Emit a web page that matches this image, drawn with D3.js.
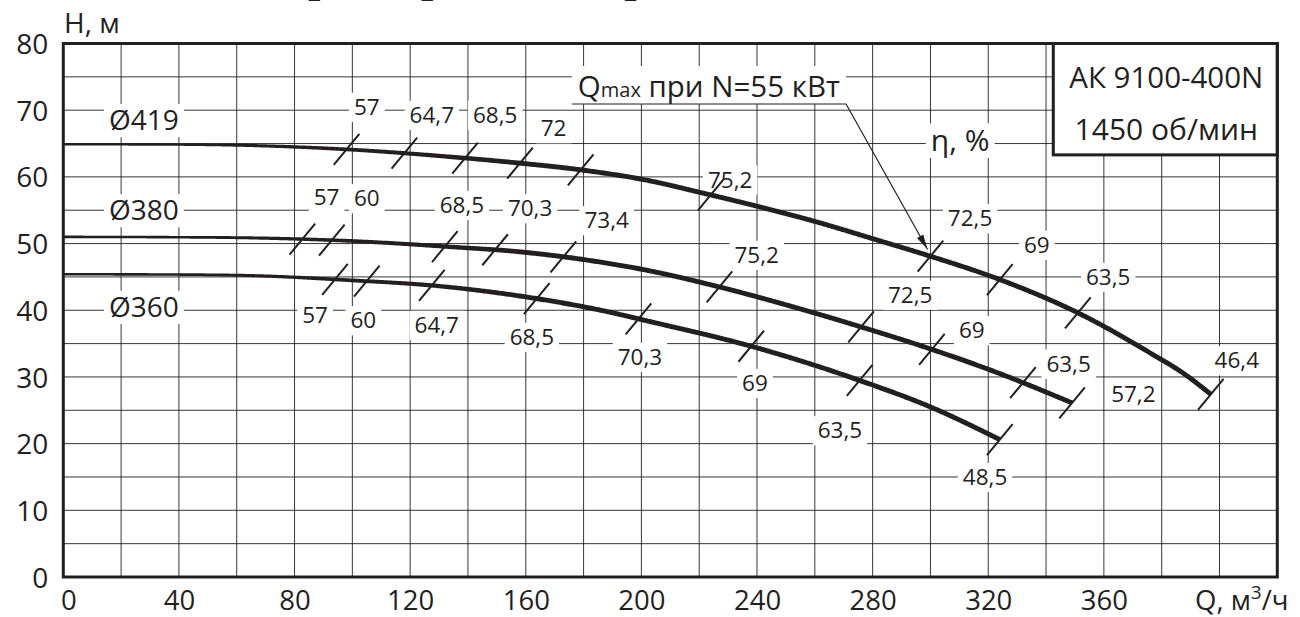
<!DOCTYPE html>
<html><head><meta charset="utf-8">
<script src="https://cdn.jsdelivr.net/npm/d3@7"></script>
<style>
body{margin:0;background:#fff}
svg{display:block}
text{font-family:'Open Sans',sans-serif;fill:#231f20}
</style>
</head><body>
<svg id="chart" width="1300" height="617"></svg>
<script>
// ---------- DATA ----------
const qTicks = [0,40,80,120,160,200,240,280,320,360];
const hTicks = [0,10,20,30,40,50,60,70,80];

const curve419 = [[0,64.9],[40,64.85],[65,64.7],[99,64.1],[134,63.0],[157,62.1],[180,61.0],[203,59.4],[220,57.7],[240,55.6],[261,53.2],[281,50.6],[300,48.1],[324,44.6],[352,39.4],[376,33.6],[388,30.4],[397,27.4]];
const curve380 = [[0,51.0],[40,50.95],[65,50.85],[99,50.4],[134,49.5],[157,48.8],[180,47.6],[203,45.9],[226,43.6],[255,40.2],[276,37.5],[300,34.2],[324,30.5],[349,26.1]];
const curve360 = [[0,45.4],[40,45.35],[65,45.2],[99,44.5],[128,43.7],[163,41.8],[186,40.0],[203,38.3],[238,34.6],[276,29.4],[300,25.5],[324,20.6]];

const diamNames = ["Ø419","Ø380","Ø360"];
const diamLabelQ = [27.9,27.9,27.9];
const diamLabelH = [68.5,55.0,40.5];

const eff419Q = [98,118,139,158,179,224,300,324,351,397];
const eff380Q = [82.7,92.9,132,149.4,173,227,276,300.5,332,349];
const eff360Q = [94,105,127.5,163.8,199,238,275.5,324];

const eff419Text = ["57","64,7","68,5","72","75,2","72,5","69","63,5","46,4"];
const eff419LabQ = [105.0,127.5,149.4,169.6,230.7,313.7,336.8,361.5,406.0];
const eff419LabH = [70.5,69.3,69.3,67.3,59.6,53.8,49.8,45.0,32.5];

const eff380Text = ["57","60","68,5","70,3","73,4","75,2","72,5","69","63,5","57,2"];
const eff380LabQ = [91.1,105.0,137.9,161.5,188.0,239.9,293.0,314.3,347.8,370.2];
const eff380LabH = [57.0,56.8,55.8,55.3,53.5,48.3,42.3,37.0,32.0,27.5];

const eff360Text = ["57","60","64,7","68,5","70,3","69","63,5","48,5"];
const eff360LabQ = [87.1,103.8,129.2,162.1,199.5,239.3,268.7,318.9];
const eff360LabH = [39.3,38.5,37.8,36.0,33.0,29.1,22.0,15.0];

const qmaxAt = 300;          // Q where N = 55 kW is reached on Ø419
const boxLines = ["АК 9100-400N","1450 об/мин"];
const titleText = "Характеристики при n=1450 об/мин";

// ---------- SETUP ----------
const ink = "#231f20";
const svg = d3.select("#chart");
const x = d3.scaleLinear().domain([0,420]).range([63.3,1277.3]);
const y = d3.scaleLinear().domain([0,80]).range([577,43.5]);

// clipped title at very top (only the descenders show)
const title = svg.append("text").attr("x",260).attr("y",-8)
  .style("font-family","'Liberation Serif',serif").style("font-weight","bold")
  .style("font-size","44px").text(titleText);
{
  const p = title.node().getStartPositionOfChar(2).x;
  title.attr("x", 260 + (308 - p));
}

// ---------- GRID ----------
const grid = svg.append("g").attr("stroke",ink).attr("stroke-width",0.9);
grid.selectAll("line.v").data(d3.range(20,420,20)).join("line")
  .attr("x1",d=>x(d)).attr("x2",d=>x(d)).attr("y1",y(0)).attr("y2",y(80));
grid.selectAll("line.h").data(d3.range(5,80,5)).join("line")
  .attr("y1",d=>y(d)).attr("y2",d=>y(d)).attr("x1",x(0)).attr("x2",x(420));

// ---------- LAYERS ----------
const bgG = svg.append("g");
const curveG = svg.append("g");
const tickG = svg.append("g").attr("stroke",ink).attr("stroke-width",2);
const txtG = svg.append("g");
function bgLabel(txt, px, py, fs){
  const t = txtG.append("text").attr("x",px).attr("y",py+0.36*fs)
    .attr("text-anchor","middle").style("font-size",fs+"px").text(txt);
  const bb = t.node().getBBox();
  const capH = 0.72*fs;
  bgG.append("rect").attr("fill","#fff")
   .attr("x",bb.x-5).attr("width",bb.width+10)
   .attr("y",py+0.36*fs-capH-6).attr("height",capH+13);
  return t;
}

// ---------- CURVES ----------
const lineGen = d3.line().x(d=>x(d[0])).y(d=>y(d[1])).curve(d3.curveMonotoneX);
function widthAt(q){ return 2.6 + 2.3*Math.max(0,Math.min(1,(q-40)/120)); }

function sampleCurve(data){
  const p = svg.append("path").attr("d",lineGen(data)).attr("fill","none").attr("stroke","none");
  const node = p.node(); const L = node.getTotalLength();
  const pts = [];
  for(let s=0;s<L;s+=1.5){ const pt=node.getPointAtLength(s); pts.push([pt.x,pt.y]); }
  const e=node.getPointAtLength(L); pts.push([e.x,e.y]);
  p.remove();
  return pts;
}
function drawCurve(pts){
  const left=[], right=[];
  for(let i=0;i<pts.length;i++){
    const a=pts[Math.max(0,i-1)], b=pts[Math.min(pts.length-1,i+1)];
    let tx=b[0]-a[0], ty=b[1]-a[1]; const n=Math.hypot(tx,ty)||1; tx/=n; ty/=n;
    const w=widthAt(x.invert(pts[i][0]))/2;
    left.push([pts[i][0]-ty*w, pts[i][1]+tx*w]);
    right.push([pts[i][0]+ty*w, pts[i][1]-tx*w]);
  }
  const poly = left.concat(right.reverse());
  curveG.append("path").attr("d","M"+poly.map(p=>p[0].toFixed(2)+","+p[1].toFixed(2)).join("L")+"Z")
    .attr("fill",ink);
}
function yOn(pts,q){
  const px=x(q);
  for(let i=1;i<pts.length;i++){
    if(pts[i][0]>=px){
      const a=pts[i-1], b=pts[i]; const t=(px-a[0])/((b[0]-a[0])||1);
      return a[1]+t*(b[1]-a[1]);
    }
  }
  return pts[pts.length-1][1];
}

const curves = [curve419,curve380,curve360].map(sampleCurve);
curves.forEach(drawCurve);

// efficiency ticks
[[curves[0],eff419Q],[curves[1],eff380Q],[curves[2],eff360Q]].forEach(([pts,qs])=>{
  tickG.selectAll(null).data(qs).join("line")
    .attr("x1",q=>x(q)-12.8).attr("y1",q=>yOn(pts,q)+15.5)
    .attr("x2",q=>x(q)+12.8).attr("y2",q=>yOn(pts,q)-15.5);
});

// ---------- LABELS ----------
eff419Text.forEach((t,i)=>bgLabel(t,x(eff419LabQ[i]),y(eff419LabH[i]),22.5));
eff380Text.forEach((t,i)=>bgLabel(t,x(eff380LabQ[i]),y(eff380LabH[i]),22.5));
eff360Text.forEach((t,i)=>bgLabel(t,x(eff360LabQ[i]),y(eff360LabH[i]),22.5));
diamNames.forEach((t,i)=>bgLabel(t,x(diamLabelQ[i]),y(diamLabelH[i]),28));
bgLabel("η, %", x(310.3), y(65.5), 30);

// ---------- Qmax annotation ----------
{
  const qg = svg.append("g");
  const r = qg.append("rect").attr("fill","#fff");
  const t = qg.append("text").attr("x",x(178)).attr("y",97).style("font-size","29.5px");
  t.append("tspan").text("Q");
  t.append("tspan").style("font-size","20px").text("max");
  t.append("tspan").text(" при N=55 кВт");
  const bb = t.node().getBBox();
  const x0 = bb.x-6, x1 = bb.x+bb.width+6, uy = 104;
  r.attr("x",x0).attr("y",66).attr("width",x1-x0).attr("height",uy-66);
  const tipX = x(qmaxAt)-3, tipY = yOn(curves[0],qmaxAt)-7;
  qg.append("path").attr("d",`M${x0},${uy}L${x1},${uy}L${tipX},${tipY}`)
    .attr("fill","none").attr("stroke",ink).attr("stroke-width",1.2);
  const ang = Math.atan2(tipY-uy, tipX-x1);
  const L=15, hw=3.6;
  const bx = tipX-L*Math.cos(ang), by = tipY-L*Math.sin(ang);
  qg.append("path").attr("d",`M${tipX},${tipY}L${bx-hw*Math.sin(ang)},${by+hw*Math.cos(ang)}L${bx+hw*Math.sin(ang)},${by-hw*Math.cos(ang)}Z`)
    .attr("fill",ink);
}

// ---------- INFO BOX ----------
{
  const bx0 = x(342.5), bx1 = x(420), by0 = y(80), by1 = y(63.3);
  svg.append("rect").attr("x",bx0).attr("y",by0).attr("width",bx1-bx0).attr("height",by1-by0)
    .attr("fill","#fff").attr("stroke",ink).attr("stroke-width",3);
  svg.append("text").attr("x",(bx0+bx1)/2+1).attr("y",88).attr("text-anchor","middle")
    .style("font-size","29.5px").text(boxLines[0]);
  svg.append("text").attr("x",(bx0+bx1)/2+1).attr("y",140).attr("text-anchor","middle")
    .style("font-size","30px").text(boxLines[1]);
}

// ---------- FRAME ----------
svg.append("rect").attr("x",x(0)).attr("y",y(80)).attr("width",x(420)-x(0)).attr("height",y(0)-y(80))
  .attr("fill","none").attr("stroke",ink).attr("stroke-width",3);

// ---------- AXES ----------
const xAxis = d3.axisBottom(x).tickValues(qTicks).tickSize(0).tickPadding(0).tickFormat(d3.format("d"));
const gx = svg.append("g").attr("transform",`translate(0,${y(0)})`).call(xAxis);
gx.select(".domain").remove();
gx.selectAll("text").attr("y",32.5).attr("dy",null).style("font-size","27.5px")
  .style("font-family","'Open Sans',sans-serif").attr("fill",ink)
  .attr("dx",d=>d===0?5:0);

const yAxis = d3.axisLeft(y).tickValues(hTicks).tickSize(0).tickPadding(0).tickFormat(d3.format("d"));
const gy = svg.append("g").attr("transform",`translate(${x(0)-15},0)`).call(yAxis);
gy.select(".domain").remove();
gy.selectAll("text").attr("dy","0.36em").attr("x",0).style("font-size","28px")
  .style("font-family","'Open Sans',sans-serif").attr("fill",ink);

svg.append("text").attr("x",64).attr("y",33).style("font-size","28px").text("H, м");
{
  const t = svg.append("text").attr("x",1195).attr("y",609.5).style("font-size","27.5px");
  t.append("tspan").text("Q, м");
  t.append("tspan").attr("dy",-11).style("font-size","19px").text("3");
  t.append("tspan").attr("dy",11).text("/ч");
}
</script>
</body></html>
